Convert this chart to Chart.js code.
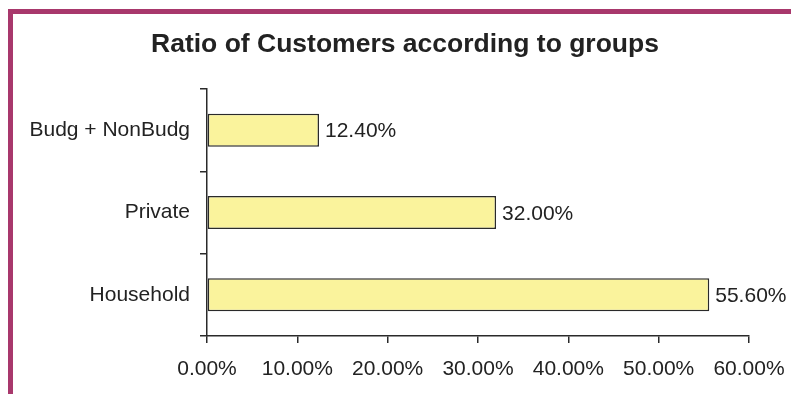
<!DOCTYPE html>
<html>
<head>
<meta charset="utf-8">
<script src="https://cdn.jsdelivr.net/npm/chart.js@4/dist/chart.umd.min.js"></script>
<style>
  html, body { margin: 0; padding: 0; background: #fff; }
  #frame {
    position: absolute; left: 8px; top: 9px; width: 778px; height: 380px;
    border-top: 5px solid #a8386c; border-left: 5px solid #a8386c;
  }
  #wrap { position: absolute; left: 0; top: 0; width: 791px; height: 394px; }
</style>
</head>
<body>
<div id="frame"></div>
<div id="wrap"><canvas id="chart" width="791" height="394"></canvas></div>
<script>
const groups = ["Budg + NonBudg", "Private", "Household"];
const ratios = [12.4, 32.0, 55.6];
const xTicks = [0, 10, 20, 30, 40, 50, 60];
const titleText = "Ratio of Customers according to groups";

const FONT = "'Liberation Sans', Arial, sans-serif";
const INK = "#222";

// title centred on the whole frame, not on the plot
const frameTitle = {
  id: "frameTitle",
  afterDraw(chart) {
    const c = chart.ctx;
    c.save();
    c.font = "bold 26.5px " + FONT;
    c.fillStyle = INK;
    c.textAlign = "center";
    c.textBaseline = "alphabetic";
    c.fillText(titleText, 405, 52);
    c.restore();
  },
};

// write the percentage next to each bar
const valueLabels = {
  id: "valueLabels",
  afterDatasetsDraw(chart) {
    const c = chart.ctx;
    const meta = chart.getDatasetMeta(0);
    c.save();
    c.font = "21px " + FONT;
    c.fillStyle = INK;
    c.textAlign = "left";
    c.textBaseline = "middle";
    meta.data.forEach(function (bar, i) {
      c.fillText(ratios[i].toFixed(2) + "%", bar.x + 6, bar.y + 1.5);
    });
    c.restore();
  },
};

const ctx = document.getElementById("chart").getContext("2d");
const chart = new Chart(ctx, {
  type: "bar",
  data: {
    labels: groups,
    datasets: [
      {
        data: ratios,
        backgroundColor: "#faf39c",
        borderColor: "#2a2a2a",
        borderWidth: 1.5,
        borderSkipped: false,
        categoryPercentage: 0.4,
        barPercentage: 1,
      },
    ],
  },
  options: {
    indexAxis: "y",
    responsive: false,
    animation: false,
    layout: { padding: { left: 0, right: 42, top: 89, bottom: 0 } },
    plugins: {
      legend: { display: false },
      tooltip: { enabled: false },
      title: { display: false },
    },
    scales: {
      x: {
        min: 0,
        max: 60,
        afterBuildTicks(scale) {
          scale.ticks = xTicks.map((v) => ({ value: v }));
        },
        afterFit(scale) {
          scale.height = 58;
          scale.paddingLeft = 0;
          scale.paddingRight = 0;
        },
        ticks: {
          color: INK,
          font: { family: FONT, size: 21 },
          padding: 14,
          maxRotation: 0,
          callback: (v) => v.toFixed(2) + "%",
        },
        grid: { drawOnChartArea: false, tickLength: 7, color: "#2a2a2a", lineWidth: 1.5 },
        border: { color: "#2a2a2a", width: 1.5 },
      },
      y: {
        afterFit(scale) {
          scale.width = 207;
          scale.paddingTop = 0;
          scale.paddingBottom = 0;
        },
        ticks: {
          color: INK,
          font: { family: FONT, size: 21 },
          padding: 10,
        },
        grid: { drawOnChartArea: false, tickLength: 7, color: "#2a2a2a", lineWidth: 1.5 },
        border: { color: "#2a2a2a", width: 1.5 },
      },
    },
  },
  plugins: [valueLabels, frameTitle],
});
</script>
</body>
</html>
